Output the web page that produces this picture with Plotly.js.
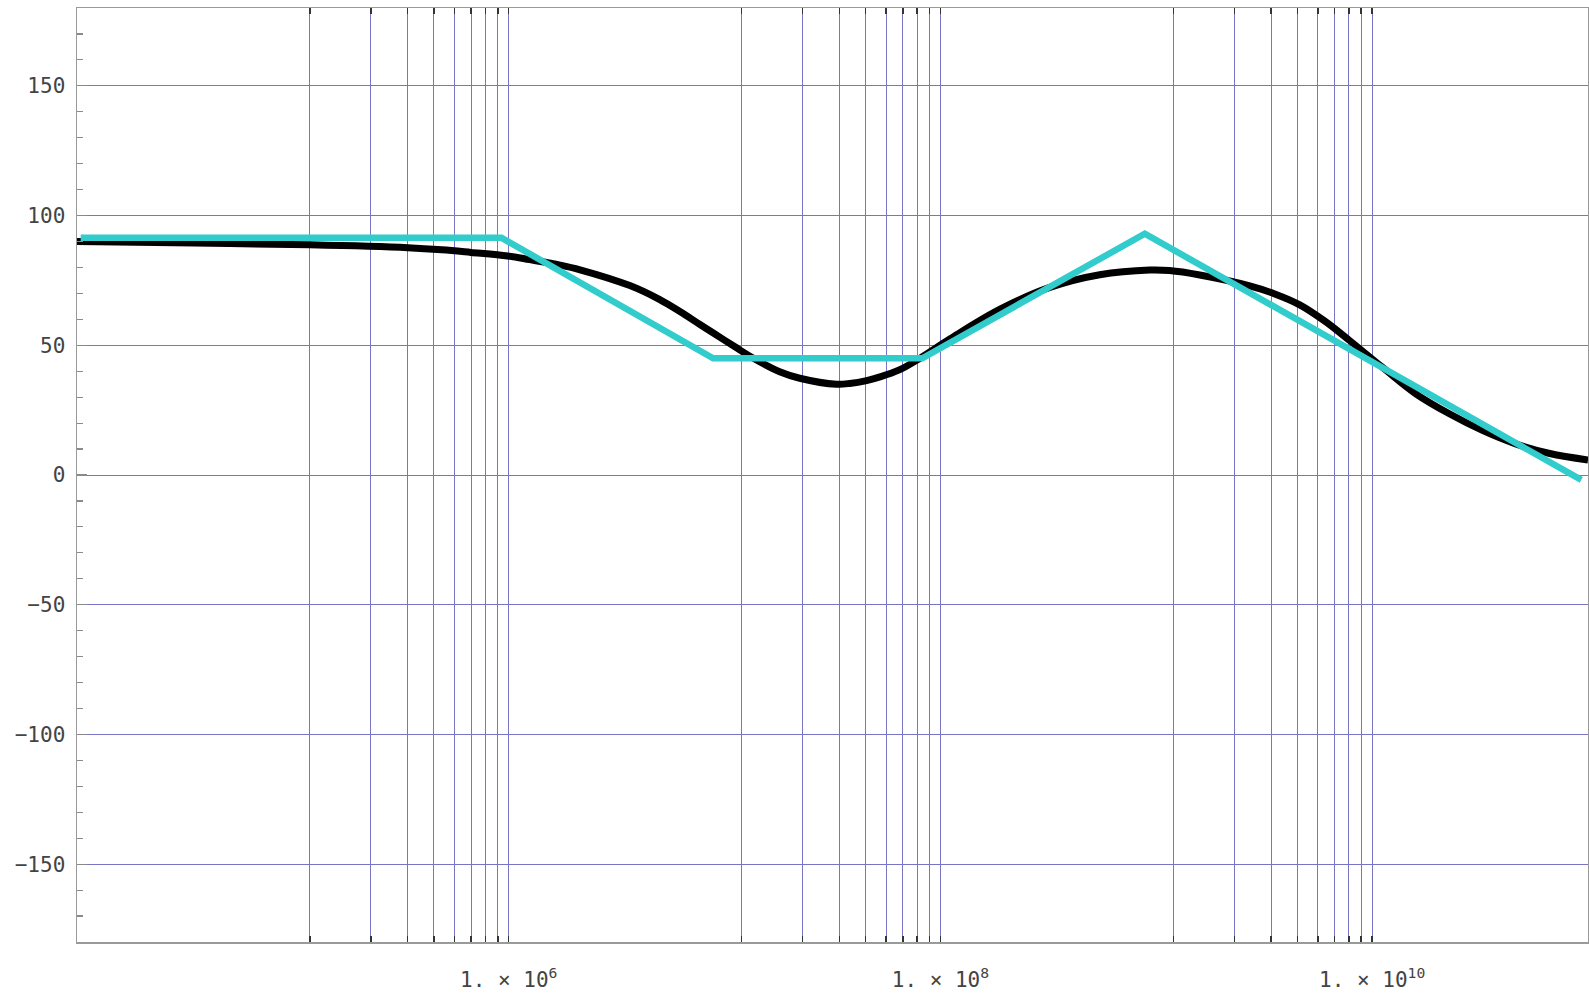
<!DOCTYPE html>
<html>
<head>
<meta charset="utf-8">
<script src="https://cdn.plot.ly/plotly-3.0.1.min.js"></script>
<style>
  html, body { margin: 0; padding: 0; background: #ffffff; }
  #chart { width: 1589px; height: 993px; }
</style>
</head>
<body>
<div id="chart"></div>
<script>
// Frequencies of the labelled decades and of the other vertical grid lines
const labelledFreqs = [1e6, 1e8, 1e10];
const labelledText = ["1. × 10<sup>6</sup>", "1. × 10<sup>8</sup>", "1. × 10<sup>10</sup>"];
const otherGridFreqs = [
  1.2e5, 2.3e5, 3.4e5, 4.5e5, 5.6e5, 6.7e5, 7.8e5, 8.9e5,
  1.2e7, 2.3e7, 3.4e7, 4.5e7, 5.6e7, 6.7e7, 7.8e7, 8.9e7,
  1.2e9, 2.3e9, 3.4e9, 4.5e9, 5.6e9, 6.7e9, 7.8e9, 8.9e9
];

// Exact phase curve (black)
const exactFreq = [
  1e4, 3.5e4, 1.2e5, 3.41e5, 4.9e5, 6.68e5, 9.9e5, 1.25e6, 1.73e6, 2.14e6,
  3.64e6, 5.01e6, 6.21e6, 7.69e6, 8.83e6, 1.117e7, 1.31e7, 1.80e7, 2.23e7, 3.30e7,
  3.8e7, 4.55e7, 5.25e7, 6.49e7, 8.04e7, 1.11e8, 1.88e8, 3.21e8, 5.47e8, 9.33e8,
  1.15e9, 1.59e9, 2.71e9, 3.54e9, 4.62e9, 6.04e9, 7.87e9, 1.12e10, 1.60e10, 2.29e10,
  3.26e10, 4.66e10, 6.65e10, 1e11
];
const exactPhase = [
  90.0, 89.4, 88.7, 87.6, 86.8, 85.8, 84.4, 83.0, 80.9, 79.1,
  73.0, 67.6, 63.0, 58.0, 54.8, 49.4, 45.8, 39.8, 37.3, 35.0,
  35.3, 36.4, 37.8, 40.6, 45.0, 52.5, 63.8, 72.3, 77.2, 79.0,
  78.8, 77.1, 72.9, 69.8, 65.6, 59.3, 51.8, 41.4, 31.2, 23.5,
  17.1, 11.9, 8.3, 5.8
];

// Asymptotic (straight-line) approximation (cyan)
const approxFreq = [1.04e4, 9.27e5, 8.85e6, 8.24e7, 8.85e8, 9.31e10];
const approxPhase = [91.4, 91.4, 45.0, 45.0, 93.0, -1.9];

const gridColor = "rgb(118,118,196)";
const frameColor = "#9a9a9a";
const tickFont = { family: "DejaVu Sans Mono, monospace", size: 21, color: "#444444" };

const traces = [
  {
    x: exactFreq, y: exactPhase, type: "scatter", mode: "lines",
    xaxis: "x2", yaxis: "y",
    line: { color: "#000000", width: 7, shape: "spline", smoothing: 1.0 },
    hoverinfo: "skip"
  },
  {
    x: approxFreq, y: approxPhase, type: "scatter", mode: "lines",
    xaxis: "x2", yaxis: "y",
    line: { color: "#33CCCC", width: 6.5 },
    hoverinfo: "skip"
  },
  {
    x: [], y: [], type: "scatter", mode: "lines",
    xaxis: "x", yaxis: "y", hoverinfo: "skip"
  }
];

const xCommon = {
  type: "log", range: [4, 11],
  tickmode: "array",
  ticks: "inside", ticklen: 6, tickwidth: 1.5, tickcolor: "#333333",
  showgrid: true, gridcolor: gridColor, gridwidth: 1,
  showline: true, linecolor: frameColor, linewidth: 1.5, mirror: "ticks",
  zeroline: false, fixedrange: true
};

const layout = {
  width: 1589, height: 993,
  margin: { l: 77, r: 1, t: 8, b: 51, pad: 0 },
  paper_bgcolor: "#ffffff", plot_bgcolor: "#ffffff",
  showlegend: false,
  xaxis: Object.assign({}, xCommon, {
    tickvals: labelledFreqs,
    ticktext: labelledText,
    tickfont: tickFont, ticklabelstandoff: 18
  }),
  xaxis2: Object.assign({}, xCommon, {
    overlaying: "x", side: "bottom",
    tickvals: otherGridFreqs,
    showticklabels: false
  }),
  yaxis: {
    range: [-180, 180],
    tickmode: "linear", tick0: 0, dtick: 50,
    ticks: "inside", ticklen: 10, tickwidth: 1.2, tickcolor: "#8a8a8a",
    minor: { dtick: 10, ticks: "inside", ticklen: 6, tickwidth: 1.2, tickcolor: "#8a8a8a", showgrid: false },
    showgrid: true, gridcolor: gridColor, gridwidth: 1,
    showline: true, linecolor: frameColor, linewidth: 1.5, mirror: true,
    zeroline: false, tickfont: tickFont, ticklabelstandoff: 6
  }
};

Plotly.newPlot("chart", traces, layout, { staticPlot: true, displayModeBar: false });
</script>
</body>
</html>
